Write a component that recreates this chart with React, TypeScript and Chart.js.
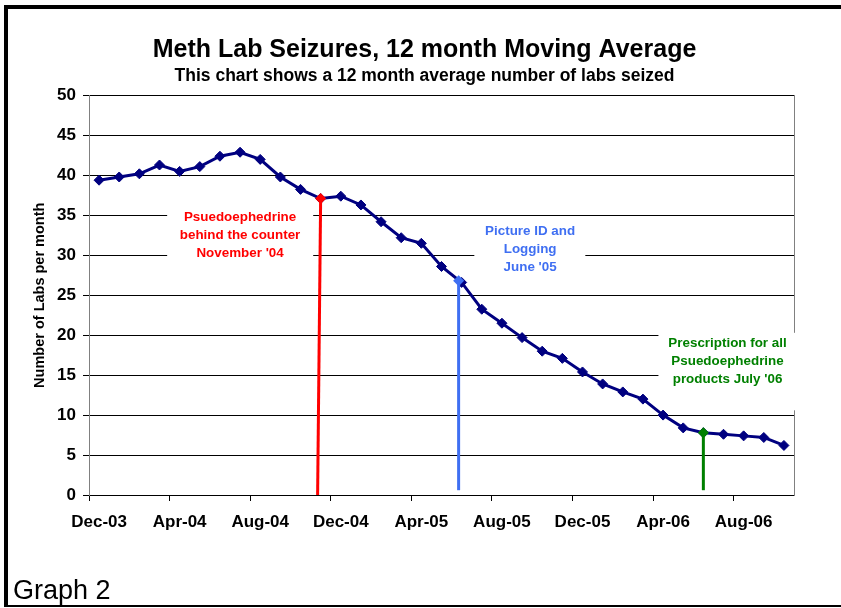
import React, { useEffect, useRef } from 'react';
import { Chart, registerables } from 'chart.js';

Chart.register(...registerables);

// ---------- data ----------
const months = [
  'Dec-03', 'Jan-04', 'Feb-04', 'Mar-04', 'Apr-04', 'May-04', 'Jun-04', 'Jul-04', 'Aug-04', 'Sep-04', 'Oct-04', 'Nov-04',
  'Dec-04', 'Jan-05', 'Feb-05', 'Mar-05', 'Apr-05', 'May-05', 'Jun-05', 'Jul-05', 'Aug-05', 'Sep-05', 'Oct-05', 'Nov-05',
  'Dec-05', 'Jan-06', 'Feb-06', 'Mar-06', 'Apr-06', 'May-06', 'Jun-06', 'Jul-06', 'Aug-06', 'Sep-06', 'Oct-06',
];

const labsSeized = [
  39.4, 39.8, 40.2, 41.3, 40.5, 41.1, 42.4, 42.9, 42.0, 39.8, 38.25, 37.1,
  37.4, 36.3, 34.2, 32.2, 31.5, 28.6, 26.6, 23.25, 21.5, 19.7, 18.0, 17.1,
  15.4, 13.9, 12.9, 12.0, 10.0, 8.4, 7.8, 7.6, 7.4, 7.2, 6.2,
];

const yTickStep = 5;
const yMin = 0;
const yMax = 50;

// policy events (category position of arrow tip, value at tip, value at foot)
const eventText = [
  ['Psuedoephedrine', 'behind the counter', "November '04"],
  ['Picture ID and', 'Logging', "June '05"],
  ['Prescription for all', 'Psuedoephedrine', "products July '06"],
];
const eventTipIndex = [11, 17.85, 30];
const eventFootIndex = [10.85, 17.85, 30];
const eventTipValue = [37.1, 26.8, 7.8];
const eventFootValue = [0, 0.6, 0.6];

// ---------- styles / layout ----------
const FONT = '"Liberation Sans", Arial, sans-serif';
const eventColors = ['#ff0000', '#3f6ff2', '#008000'];
// label boxes in data space: [x0 index, x1 index, top value, bottom value], text centre index, first-line value
const eventBoxes = [
  { x0: 3.38, x1: 10.63, top: 36.3, bottom: 28.7, cx: 7.0, firstY: 34.75 },
  { x0: 18.63, x1: 24.14, top: 34.1, bottom: 27.3, cx: 21.4, firstY: 33.0 },
  { x0: 27.77, x1: 34.9, top: 20.3, bottom: 10.6, cx: 31.2, firstY: 19.0 },
];

const eventsPlugin = {
  id: 'events',
  beforeDraw(chart: any) {
    const { ctx, width, height } = chart;
    ctx.save();
    ctx.fillStyle = '#ffffff';
    ctx.fillRect(0, 0, width, height);
    ctx.restore();
  },
  beforeDatasetsDraw(chart: any) {
    const { ctx } = chart;
    const xs = chart.scales.x;
    const ys = chart.scales.y;
    ctx.save();
    ctx.fillStyle = '#ffffff';
    eventBoxes.forEach((b) => {
      const x0 = xs.getPixelForValue(b.x0);
      const x1 = xs.getPixelForValue(b.x1);
      const y0 = ys.getPixelForValue(b.top);
      const y1 = ys.getPixelForValue(b.bottom);
      ctx.fillRect(x0, y0, x1 - x0, y1 - y0);
    });
    ctx.restore();
  },
  afterDatasetsDraw(chart: any) {
    const { ctx } = chart;
    const xs = chart.scales.x;
    const ys = chart.scales.y;
    ctx.save();
    eventText.forEach((lines, i) => {
      const color = eventColors[i];
      const tx = xs.getPixelForValue(eventTipIndex[i]);
      const ty = ys.getPixelForValue(eventTipValue[i]);
      const fx = xs.getPixelForValue(eventFootIndex[i]);
      const fy = ys.getPixelForValue(eventFootValue[i]);
      ctx.strokeStyle = color;
      ctx.lineWidth = 3;
      ctx.beginPath();
      ctx.moveTo(fx, fy);
      ctx.lineTo(tx, ty);
      ctx.stroke();
      // diamond tip
      const r = 5.5;
      ctx.fillStyle = color;
      ctx.beginPath();
      ctx.moveTo(tx - r, ty);
      ctx.lineTo(tx, ty - r);
      ctx.lineTo(tx + r, ty);
      ctx.lineTo(tx, ty + r);
      ctx.closePath();
      ctx.fill();
      // text
      const b = eventBoxes[i];
      const cx = xs.getPixelForValue(b.cx);
      const cy = ys.getPixelForValue(b.firstY);
      ctx.font = `bold 13.4px ${FONT}`;
      ctx.textAlign = 'center';
      ctx.textBaseline = 'middle';
      lines.forEach((t, j) => {
        ctx.fillText(t, cx, cy + j * 18);
      });
    });
    ctx.restore();
  },
  afterDraw(chart: any) {
    const { ctx, width } = chart;
    ctx.save();
    ctx.fillStyle = '#000000';
    ctx.fillRect(4, 5, width - 4, 4);
    ctx.fillRect(4, 5, 4, 602);
    ctx.fillRect(4, 605, width - 4, 2);
    ctx.font = `27px ${FONT}`;
    ctx.textAlign = 'left';
    ctx.textBaseline = 'alphabetic';
    ctx.fillText('Graph 2', 13, 599);
    ctx.restore();
  },
};

export default function App() {
  const canvasRef = useRef<HTMLCanvasElement | null>(null);

  useEffect(() => {
    const canvas = canvasRef.current;
    if (!canvas) return;
    const chart = new Chart(canvas, {
      type: 'line',
      data: {
        labels: months,
        datasets: [
          {
            label: '12 month moving average',
            data: labsSeized,
            borderColor: '#000080',
            backgroundColor: '#000080',
            borderWidth: 3,
            pointStyle: 'rectRot',
            pointRadius: 5,
            pointBorderWidth: 1,
            pointBackgroundColor: '#000080',
            pointBorderColor: '#000080',
            tension: 0,
            fill: false,
            xAxisID: 'x',
            yAxisID: 'y',
          },
        ],
      },
      options: {
        responsive: false,
        animation: false,
        devicePixelRatio: 1,
        events: [],
        layout: { padding: { left: 8, right: 0, top: 10, bottom: 0 } },
        plugins: {
          legend: { display: false },
          tooltip: { enabled: false },
          title: {
            display: true,
            text: 'Meth Lab Seizures, 12 month Moving Average',
            color: '#000',
            font: { family: FONT, size: 25, weight: 'bold' },
            padding: { top: 25, bottom: 0 },
          },
          subtitle: {
            display: true,
            text: 'This chart shows a 12 month average number of labs seized',
            color: '#000',
            font: { family: FONT, size: 17.5, weight: 'bold' },
            padding: { top: 1, bottom: 8.5 },
          },
        },
        scales: {
          x: {
            type: 'category',
            offset: true,
            grid: {
              offset: true,
              drawOnChartArea: false,
              drawTicks: true,
              tickLength: 6,
              lineWidth: 1,
              color: (c: any) => (typeof c.index === 'number' && c.index % 4 === 0 ? '#000' : 'rgba(0,0,0,0)'),
            },
            border: { display: true, color: '#000', width: 1 },
            ticks: {
              autoSkip: false,
              maxRotation: 0,
              minRotation: 0,
              padding: 11,
              color: '#000',
              font: { family: FONT, size: 17, weight: 'bold' },
              callback: (_v: any, i: number) => (i % 4 === 0 ? months[i] : ''),
            },
            afterFit: (s: any) => {
              s.height = 113;
            },
          },
          y: {
            min: yMin,
            max: yMax,
            ticks: {
              stepSize: yTickStep,
              padding: 7,
              color: '#000',
              font: { family: FONT, size: 17, weight: 'bold' },
            },
            grid: {
              color: '#000',
              lineWidth: 1,
              drawTicks: true,
              tickLength: 6,
              tickColor: '#000',
            },
            border: { display: true, color: '#808080', width: 1 },
            title: {
              display: true,
              text: 'Number of Labs per month',
              color: '#000',
              font: { family: FONT, size: 14.5, weight: 'bold' },
              padding: { top: 23, bottom: 0 },
            },
            afterFit: (s: any) => {
              s.width = 81;
            },
          },
          y2: {
            position: 'right',
            display: true,
            min: yMin,
            max: yMax,
            ticks: { display: false },
            grid: { drawOnChartArea: false, drawTicks: false },
            border: { display: true, color: '#808080', width: 1 },
            afterFit: (s: any) => {
              s.width = 47;
            },
          },
        },
      },
      plugins: [eventsPlugin],
    } as any);
    return () => {
      chart.destroy();
    };
  }, []);

  return (
    <div style={{ position: 'absolute', left: 0, top: 0, width: 841, height: 608, background: '#fff' }}>
      <canvas ref={canvasRef} width={841} height={608} style={{ display: 'block' }} />
    </div>
  );
}
